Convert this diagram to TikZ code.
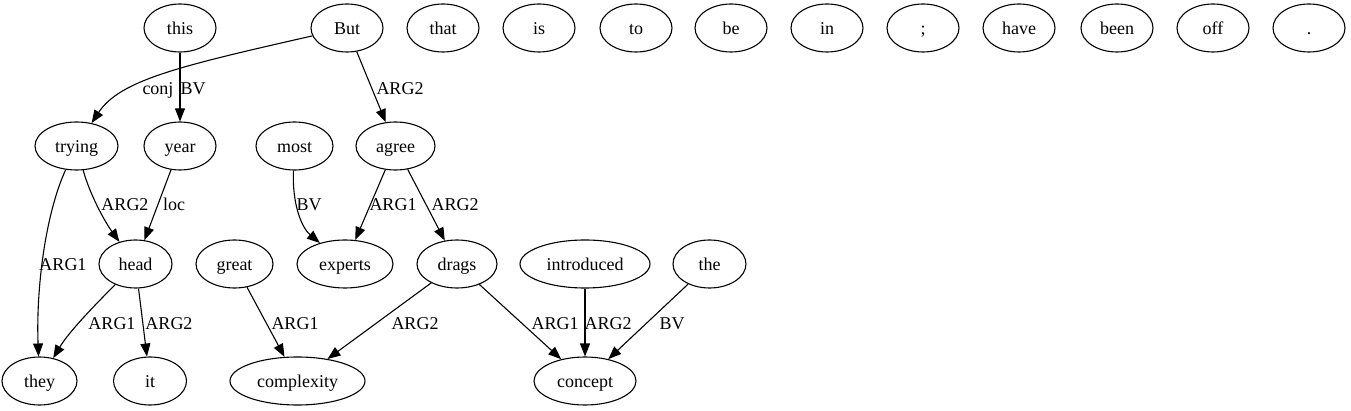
\documentclass[tikz,border=0pt]{standalone}
\usepackage{fontspec}
\setmainfont{Liberation Serif}
\usetikzlibrary{arrows.meta,shapes.geometric}
\begin{document}
\begin{tikzpicture}[x=1pt,y=-1pt,
  every node/.style={font=\fontsize{18}{20}\selectfont, text height=15pt, text depth=2pt, inner sep=0pt},
  wnode/.style={draw, ellipse, line width=1.1pt, minimum height=48pt, minimum width=#1},
  wnode/.default=72pt,
  lab/.style={},
  edge/.style={draw, line width=1.1pt, -{Triangle[length=13pt,width=10pt]}}]
\useasboundingbox (0,0) rectangle (1351,411);
% row 1
\node[wnode] (this) at (180,28) {this};
\node[wnode] (But) at (347,28) {But};
\node[wnode] (that) at (443,28) {that};
\node[wnode] (is) at (539,28) {is};
\node[wnode] (to) at (636,28) {to};
\node[wnode] (be) at (731,28) {be};
\node[wnode] (in) at (827,28) {in};
\node[wnode] (semi) at (923,28) {;};
\node[wnode] (have) at (1019,28) {have};
\node[wnode] (been) at (1117,28) {been};
\node[wnode] (off) at (1213,28) {off};
\node[wnode] (dot) at (1309,28) {.};
% row 2
\node[wnode=83pt] (trying) at (76.5,146) {trying};
\node[wnode] (year) at (180,146) {year};
\node[wnode=77pt] (most) at (294.5,146) {most};
\node[wnode=79pt] (agree) at (395.5,146) {agree};
% row 3
\node[wnode=73pt] (head) at (135.5,264) {head};
\node[wnode=77pt] (great) at (234.5,264) {great};
\node[wnode=96pt] (experts) at (345,264) {experts};
\node[wnode=80pt] (drags) at (457,264) {drags};
\node[wnode=130pt] (introduced) at (585,264) {introduced};
\node[wnode=73pt] (the) at (709.5,264) {the};
% row 4
\node[wnode=75pt] (they) at (39.5,381) {they};
\node[wnode=73pt] (it) at (150,381) {it};
\node[wnode=135pt] (complexity) at (297.5,381) {complexity};
\node[wnode=102pt] (concept) at (585,381) {concept};
% edges
\draw[edge] (But) .. controls (180,66) and (120,80) .. (trying);
\draw[edge] (this) -- (year);
\draw[edge] (But) -- (agree);
\draw[edge] (trying) .. controls (90,195) and (105,222) .. (head);
\draw[edge] (trying) .. controls (45,215) and (36,290) .. (they);
\draw[edge] (year) -- (head);
\draw[edge] (most) .. controls (292,205) and (302,228) .. (experts);
\draw[edge] (agree) -- (experts);
\draw[edge] (agree) -- (drags);
\draw[edge] (head) .. controls (100,300) and (70,330) .. (they);
\draw[edge] (head) -- (it);
\draw[edge] (great) -- (complexity);
\draw[edge] (drags) -- (complexity);
\draw[edge] (drags) -- (concept);
\draw[edge] (introduced) -- (concept);
\draw[edge] (the) -- (concept);
% labels
\node[lab] (l1) at (158,88) {conj};
\node[lab] (l2) at (193,88) {BV};
\node[lab] (l3) at (400,88) {ARG2};
\node[lab] (l4) at (125,204) {ARG2};
\node[lab] (l5) at (174,204) {loc};
\node[lab] (l6) at (63,264) {ARG1};
\node[lab] (l7) at (309,204) {BV};
\node[lab] (l8) at (393,204) {ARG1};
\node[lab] (l9) at (455,204) {ARG2};
\node[lab] (l10) at (112,323) {ARG1};
\node[lab] (l11) at (169,323) {ARG2};
\node[lab] (l12) at (295,323) {ARG1};
\node[lab] (l13) at (415,323) {ARG2};
\node[lab] (l14) at (555,323) {ARG1};
\node[lab] (l15) at (608,323) {ARG2};
\node[lab] (l16) at (672,323) {BV};
\end{tikzpicture}
\end{document}
